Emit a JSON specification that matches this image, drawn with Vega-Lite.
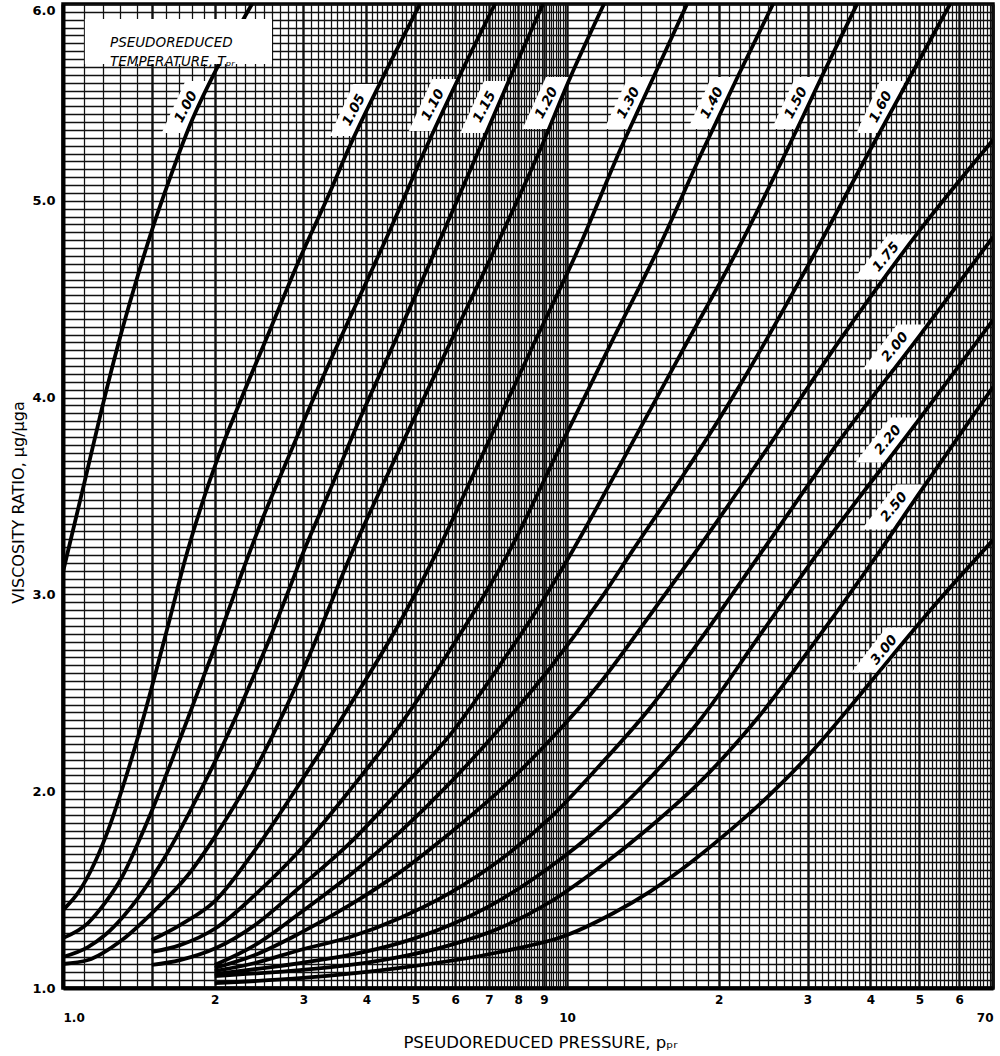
{
  "$schema": "https://vega.github.io/schema/vega-lite/v6.json",
  "width": 930,
  "height": 984,
  "autosize": {"type": "none"},
  "padding": {"left": 63, "top": 4, "right": 7, "bottom": 68},
  "background": "white",
  "config": {"view": {"stroke": "#000", "strokeWidth": 3.5}, "font": "DejaVu Sans"},
  "datasets": {
    "curves": [
      {"T":"1.00","p":1.0,"r":3.114},{"T":"1.00","p":1.1058,"r":3.581},{"T":"1.00","p":1.1952,"r":3.947},{"T":"1.00","p":1.2857,"r":4.267},{"T":"1.00","p":1.3895,"r":4.572},{"T":"1.00","p":1.502,"r":4.852},{"T":"1.00","p":1.6305,"r":5.116},{"T":"1.00","p":1.7865,"r":5.385},{"T":"1.00","p":2.0494,"r":5.705},{"T":"1.00","p":2.3714,"r":6.0},
      {"T":"1.05","p":1.0,"r":1.396},{"T":"1.05","p":1.0807,"r":1.498},{"T":"1.05","p":1.1575,"r":1.64},{"T":"1.05","p":1.2395,"r":1.828},{"T":"1.05","p":1.3275,"r":2.057},{"T":"1.05","p":1.4216,"r":2.311},{"T":"1.05","p":1.5227,"r":2.59},{"T":"1.05","p":1.6305,"r":2.88},{"T":"1.05","p":1.746,"r":3.175},{"T":"1.05","p":1.87,"r":3.429},{"T":"1.05","p":2.0494,"r":3.724},{"T":"1.05","p":2.2447,"r":3.978},{"T":"1.05","p":2.5745,"r":4.344},{"T":"1.05","p":2.9534,"r":4.709},{"T":"1.05","p":3.3866,"r":5.045},{"T":"1.05","p":3.6769,"r":5.258},{"T":"1.05","p":4.3351,"r":5.639},{"T":"1.05","p":5.109,"r":6.0},
      {"T":"1.10","p":1.0,"r":1.254},{"T":"1.10","p":1.1209,"r":1.33},{"T":"1.10","p":1.2115,"r":1.432},{"T":"1.10","p":1.3094,"r":1.564},{"T":"1.10","p":1.4087,"r":1.737},{"T":"1.10","p":1.5227,"r":1.94},{"T":"1.10","p":1.6455,"r":2.159},{"T":"1.10","p":1.7702,"r":2.372},{"T":"1.10","p":1.9129,"r":2.601},{"T":"1.10","p":2.0682,"r":2.829},{"T":"1.10","p":2.2758,"r":3.124},{"T":"1.10","p":2.4823,"r":3.378},{"T":"1.10","p":2.7959,"r":3.693},{"T":"1.10","p":3.1623,"r":4.013},{"T":"1.10","p":3.5776,"r":4.318},{"T":"1.10","p":4.4556,"r":4.852},{"T":"1.10","p":5.2271,"r":5.258},{"T":"1.10","p":6.1337,"r":5.639},{"T":"1.10","p":7.1969,"r":6.0},
      {"T":"1.15","p":1.0,"r":1.158},{"T":"1.15","p":1.1209,"r":1.208},{"T":"1.15","p":1.2115,"r":1.269},{"T":"1.15","p":1.3094,"r":1.356},{"T":"1.15","p":1.4087,"r":1.457},{"T":"1.15","p":1.5227,"r":1.584},{"T":"1.15","p":1.6455,"r":1.727},{"T":"1.15","p":1.7702,"r":1.879},{"T":"1.15","p":1.9129,"r":2.047},{"T":"1.15","p":2.0682,"r":2.225},{"T":"1.15","p":2.2243,"r":2.402},{"T":"1.15","p":2.4041,"r":2.601},{"T":"1.15","p":2.5982,"r":2.804},{"T":"1.15","p":2.7959,"r":3.012},{"T":"1.15","p":2.9941,"r":3.21},{"T":"1.15","p":3.3866,"r":3.53},{"T":"1.15","p":3.7965,"r":3.835},{"T":"1.15","p":4.6637,"r":4.344},{"T":"1.15","p":5.597,"r":4.801},{"T":"1.15","p":6.6601,"r":5.248},{"T":"1.15","p":7.7071,"r":5.624},{"T":"1.15","p":8.9615,"r":6.0},
      {"T":"1.20","p":1.0,"r":1.122},{"T":"1.20","p":1.1209,"r":1.142},{"T":"1.20","p":1.3094,"r":1.244},{"T":"1.20","p":1.5227,"r":1.396},{"T":"1.20","p":1.7702,"r":1.574},{"T":"1.20","p":2.0115,"r":1.777},{"T":"1.20","p":2.4041,"r":2.108},{"T":"1.20","p":2.9534,"r":2.58},{"T":"1.20","p":3.7619,"r":3.226},{"T":"1.20","p":4.6637,"r":3.744},{"T":"1.20","p":5.8606,"r":4.277},{"T":"1.20","p":7.3631,"r":4.811},{"T":"1.20","p":8.8393,"r":5.258},{"T":"1.20","p":10.138,"r":5.624},{"T":"1.20","p":11.841,"r":6.0},
      {"T":"1.30","p":1.5,"r":1.244},{"T":"1.30","p":1.7062,"r":1.32},{"T":"1.30","p":2.0115,"r":1.447},{"T":"1.30","p":2.4041,"r":1.701},{"T":"1.30","p":2.9534,"r":2.042},{"T":"1.30","p":3.7107,"r":2.438},{"T":"1.30","p":4.6637,"r":2.86},{"T":"1.30","p":5.546,"r":3.226},{"T":"1.30","p":6.7211,"r":3.683},{"T":"1.30","p":8.4451,"r":4.232},{"T":"1.30","p":10.612,"r":4.775},{"T":"1.30","p":12.744,"r":5.258},{"T":"1.30","p":14.88,"r":5.634},{"T":"1.30","p":17.302,"r":6.0},
      {"T":"1.40","p":1.5,"r":1.183},{"T":"1.40","p":1.7062,"r":1.218},{"T":"1.40","p":2.0115,"r":1.305},{"T":"1.40","p":2.4041,"r":1.473},{"T":"1.40","p":2.9534,"r":1.701},{"T":"1.40","p":3.7107,"r":2.006},{"T":"1.40","p":4.6637,"r":2.336},{"T":"1.40","p":5.8606,"r":2.717},{"T":"1.40","p":7.7071,"r":3.226},{"T":"1.40","p":9.6853,"r":3.749},{"T":"1.40","p":12.175,"r":4.267},{"T":"1.40","p":15.292,"r":4.775},{"T":"1.40","p":18.612,"r":5.258},{"T":"1.40","p":21.842,"r":5.634},{"T":"1.40","p":25.63,"r":6.0},
      {"T":"1.50","p":1.5,"r":1.117},{"T":"1.50","p":1.7062,"r":1.142},{"T":"1.50","p":2.0115,"r":1.203},{"T":"1.50","p":2.4041,"r":1.32},{"T":"1.50","p":2.9534,"r":1.513},{"T":"1.50","p":3.7107,"r":1.737},{"T":"1.50","p":4.6637,"r":2.006},{"T":"1.50","p":5.8606,"r":2.286},{"T":"1.50","p":7.3631,"r":2.641},{"T":"1.50","p":8.8393,"r":2.946},{"T":"1.50","p":10.278,"r":3.226},{"T":"1.50","p":12.744,"r":3.657},{"T":"1.50","p":16.759,"r":4.216},{"T":"1.50","p":22.041,"r":4.775},{"T":"1.50","p":27.327,"r":5.258},{"T":"1.50","p":32.06,"r":5.634},{"T":"1.50","p":37.618,"r":6.0},
      {"T":"1.60","p":2.0,"r":1.117},{"T":"1.60","p":2.4041,"r":1.218},{"T":"1.60","p":2.9534,"r":1.381},{"T":"1.60","p":3.7107,"r":1.574},{"T":"1.60","p":4.6637,"r":1.793},{"T":"1.60","p":5.8606,"r":2.042},{"T":"1.60","p":7.3631,"r":2.321},{"T":"1.60","p":9.2527,"r":2.626},{"T":"1.60","p":11.627,"r":2.972},{"T":"1.60","p":13.521,"r":3.226},{"T":"1.60","p":16.759,"r":3.581},{"T":"1.60","p":22.041,"r":4.064},{"T":"1.60","p":28.998,"r":4.598},{"T":"1.60","p":39.929,"r":5.258},{"T":"1.60","p":47.926,"r":5.629},{"T":"1.60","p":57.541,"r":6.0},
      {"T":"1.75","p":2.0,"r":1.102},{"T":"1.75","p":2.4041,"r":1.168},{"T":"1.75","p":2.9534,"r":1.279},{"T":"1.75","p":3.7107,"r":1.422},{"T":"1.75","p":4.6637,"r":1.589},{"T":"1.75","p":5.8606,"r":1.788},{"T":"1.75","p":7.3631,"r":2.006},{"T":"1.75","p":9.2527,"r":2.26},{"T":"1.75","p":11.627,"r":2.55},{"T":"1.75","p":14.61,"r":2.895},{"T":"1.75","p":18.112,"r":3.226},{"T":"1.75","p":24.156,"r":3.688},{"T":"1.75","p":34.808,"r":4.293},{"T":"1.75","p":50.165,"r":4.852},{"T":"1.75","p":70,"r":5.309},
      {"T":"2.00","p":2.0,"r":1.086},{"T":"2.00","p":2.4041,"r":1.127},{"T":"2.00","p":2.9534,"r":1.193},{"T":"2.00","p":3.7107,"r":1.259},{"T":"2.00","p":4.6637,"r":1.356},{"T":"2.00","p":5.8606,"r":1.483},{"T":"2.00","p":7.3631,"r":1.65},{"T":"2.00","p":9.2527,"r":1.864},{"T":"2.00","p":11.627,"r":2.133},{"T":"2.00","p":14.61,"r":2.423},{"T":"2.00","p":18.361,"r":2.768},{"T":"2.00","p":24.489,"r":3.226},{"T":"2.00","p":34.808,"r":3.785},{"T":"2.00","p":50.165,"r":4.318},{"T":"2.00","p":70,"r":4.816},
      {"T":"2.20","p":2.0,"r":1.071},{"T":"2.20","p":2.9534,"r":1.127},{"T":"2.20","p":3.7107,"r":1.168},{"T":"2.20","p":4.6637,"r":1.229},{"T":"2.20","p":5.8606,"r":1.32},{"T":"2.20","p":7.3631,"r":1.447},{"T":"2.20","p":9.2527,"r":1.615},{"T":"2.20","p":11.627,"r":1.818},{"T":"2.20","p":14.61,"r":2.067},{"T":"2.20","p":18.361,"r":2.362},{"T":"2.20","p":24.156,"r":2.794},{"T":"2.20","p":31.768,"r":3.226},{"T":"2.20","p":50.165,"r":3.896},{"T":"2.20","p":70,"r":4.394},
      {"T":"2.50","p":2.0,"r":1.061},{"T":"2.50","p":2.9534,"r":1.091},{"T":"2.50","p":3.7107,"r":1.117},{"T":"2.50","p":4.6637,"r":1.158},{"T":"2.50","p":5.8606,"r":1.218},{"T":"2.50","p":7.3631,"r":1.305},{"T":"2.50","p":9.2527,"r":1.437},{"T":"2.50","p":11.627,"r":1.615},{"T":"2.50","p":14.61,"r":1.818},{"T":"2.50","p":18.361,"r":2.047},{"T":"2.50","p":24.156,"r":2.387},{"T":"2.50","p":31.768,"r":2.794},{"T":"2.50","p":41.228,"r":3.2},{"T":"2.50","p":50.165,"r":3.52},{"T":"2.50","p":70,"r":4.054},
      {"T":"3.00","p":2.0,"r":1.025},{"T":"3.00","p":2.9941,"r":1.051},{"T":"3.00","p":4.6637,"r":1.102},{"T":"3.00","p":7.3631,"r":1.183},{"T":"3.00","p":10.0,"r":1.269},{"T":"3.00","p":12.343,"r":1.38},{"T":"3.00","p":14.61,"r":1.49},{"T":"3.00","p":17.541,"r":1.635},{"T":"3.00","p":20.773,"r":1.788},{"T":"3.00","p":24.489,"r":1.95},{"T":"3.00","p":29.939,"r":2.174},{"T":"3.00","p":36.436,"r":2.428},{"T":"3.00","p":41.228,"r":2.595},{"T":"3.00","p":53.232,"r":2.936},{"T":"3.00","p":70,"r":3.276}
    ],
    "labels": [
      {"T":"1.00","p":1.754,"r":5.477},{"T":"1.05","p":3.779,"r":5.461},{"T":"1.10","p":5.421,"r":5.487},{"T":"1.15","p":6.861,"r":5.477},{"T":"1.20","p":9.11,"r":5.497},{"T":"1.30","p":13.25,"r":5.497},{"T":"1.40","p":19.4,"r":5.497},{"T":"1.50","p":28.47,"r":5.497},{"T":"1.60","p":41.91,"r":5.477},
      {"T":"1.75","p":42.96,"r":4.714},{"T":"2.00","p":44.76,"r":4.257},{"T":"2.20","p":43.35,"r":3.785},{"T":"2.50","p":44.56,"r":3.444},{"T":"3.00","p":42.56,"r":2.717}
    ],
    "legendbox": [{"p":1.105,"p2":2.598,"r":5.695,"r2":5.924}],
    "legendtext": [{"p":1.2395,"r":5.804,"text":"PSEUDOREDUCED\nTEMPERATURE, Tₚᵣ"}]
  },
  "encoding": {
    "x": {
      "field": "p", "type": "quantitative",
      "scale": {"type": "log", "domain": [1, 70], "nice": false},
      "axis": {
        "values": [1,1.1,1.2,1.3,1.4,1.5,1.6,1.7,1.8,1.9,2,2.1,2.2,2.3,2.4,2.5,2.6,2.7,2.8,2.9,3,3.1,3.2,3.3,3.4,3.5,3.6,3.7,3.8,3.9,4,4.1,4.2,4.3,4.4,4.5,4.6,4.7,4.8,4.9,5,5.1,5.2,5.3,5.4,5.5,5.6,5.7,5.8,5.9,6,6.1,6.2,6.3,6.4,6.5,6.6,6.7,6.8,6.9,7,7.1,7.2,7.3,7.4,7.5,7.6,7.7,7.8,7.9,8,8.1,8.2,8.3,8.4,8.5,8.6,8.7,8.8,8.9,9,9.1,9.2,9.3,9.4,9.5,9.6,9.7,9.8,9.9,10,11,12,13,14,15,16,17,18,19,20,21,22,23,24,25,26,27,28,29,30,31,32,33,34,35,36,37,38,39,40,41,42,43,44,45,46,47,48,49,50,51,52,53,54,55,56,57,58,59,60,61,62,63,64,65,66,67,68,69,70],
        "grid": true,
        "gridColor": "#111",
        "gridWidth": {"condition": {"test": "indexof([1,1.5,2,3,4,5,6,7,8,9,10,20,30,40,50,60,70], datum.value) >= 0", "value": 2.4}, "value": 1.25},
        "ticks": false,
        "domain": true, "domainWidth": 4, "domainColor": "#000",
        "labelExpr": "datum.value == 1 ? '1.0' : datum.value == 10 ? '10' : datum.value == 70 ? '70' : (datum.value < 10 && datum.value == round(datum.value)) ? '' + datum.value : (datum.value > 10 && datum.value % 10 == 0) ? '' + (datum.value / 10) : ''",
        "labelOverlap": false,
        "labelFont": "DejaVu Sans", "labelFontSize": 12, "labelFontWeight": "bold", "labelColor": "#000",
        "labelBaseline": "top",
        "labelPadding": {"condition": {"test": "datum.value == 1 || datum.value == 10 || datum.value == 70", "value": 24}, "value": 6},
        "title": "PSEUDOREDUCED PRESSURE, pₚᵣ",
        "titleFont": "DejaVu Sans", "titleFontSize": 16.5, "titleFontWeight": "normal", "titleColor": "#000",
        "titleX": 477, "titleY": 54, "titleBaseline": "middle", "titleAlign": "center"
      }
    },
    "y": {
      "field": "r", "type": "quantitative",
      "scale": {"domain": [1, 6], "nice": false, "zero": false},
      "axis": {
        "values": [1,1.04,1.08,1.12,1.16,1.2,1.24,1.28,1.32,1.36,1.4,1.44,1.48,1.52,1.56,1.6,1.64,1.68,1.72,1.76,1.8,1.84,1.88,1.92,1.96,2,2.04,2.08,2.12,2.16,2.2,2.24,2.28,2.32,2.36,2.4,2.44,2.48,2.52,2.56,2.6,2.64,2.68,2.72,2.76,2.8,2.84,2.88,2.92,2.96,3,3.04,3.08,3.12,3.16,3.2,3.24,3.28,3.32,3.36,3.4,3.44,3.48,3.52,3.56,3.6,3.64,3.68,3.72,3.76,3.8,3.84,3.88,3.92,3.96,4,4.04,4.08,4.12,4.16,4.2,4.24,4.28,4.32,4.36,4.4,4.44,4.48,4.52,4.56,4.6,4.64,4.68,4.72,4.76,4.8,4.84,4.88,4.92,4.96,5,5.04,5.08,5.12,5.16,5.2,5.24,5.28,5.32,5.36,5.4,5.44,5.48,5.52,5.56,5.6,5.64,5.68,5.72,5.76,5.8,5.84,5.88,5.92,5.96,6],
        "grid": true,
        "gridColor": "#111",
        "gridWidth": 1.45,
        "ticks": false,
        "domain": true, "domainWidth": 4, "domainColor": "#000",
        "labelExpr": "abs(datum.value - round(datum.value)) < 0.001 ? format(datum.value, '.1f') : ''",
        "labelOverlap": false,
        "labelFont": "DejaVu Sans", "labelFontSize": 13, "labelFontWeight": "bold", "labelColor": "#000",
        "labelPadding": 8,
        "labelBaseline": {"condition": {"test": "datum.value == 6", "value": "top"}, "value": "middle"},
        "title": "VISCOSITY RATIO,  μg/μga",
        "titleFont": "DejaVu Sans", "titleFontSize": 16, "titleFontWeight": "normal", "titleColor": "#000",
        "titleAngle": 270, "titleX": -45, "titleY": 498, "titleBaseline": "middle", "titleAlign": "center"
      }
    }
  },
  "layer": [
    {
      "data": {"name": "labels"},
      "transform": [{"filter": "datum.r > 5"}],
      "mark": {"type": "point", "shape": "M-0.025,-1L0.935,-1L0.025,1L-0.935,1Z", "filled": true, "color": "white", "opacity": 1, "strokeWidth": 0, "size": 2704}
    },
    {
      "data": {"name": "labels"},
      "transform": [{"filter": "datum.r <= 5"}],
      "mark": {"type": "point", "shape": "M0.09,-1L1.45,-1L-0.09,1L-1.45,1Z", "filled": true, "color": "white", "opacity": 1, "strokeWidth": 0, "size": 2025}
    },
    {
      "data": {"name": "curves"},
      "mark": {"type": "line", "color": "#000", "strokeWidth": 3.8, "interpolate": "monotone", "clip": true},
      "encoding": {"detail": {"field": "T"}}
    },
    {
      "data": {"name": "legendbox"},
      "mark": {"type": "rect", "fill": "white", "stroke": null},
      "encoding": {"x2": {"field": "p2"}, "y2": {"field": "r2"}}
    },
    {
      "data": {"name": "legendtext"},
      "mark": {"type": "text", "align": "left", "baseline": "middle", "font": "DejaVu Sans", "fontSize": 13.5, "fontStyle": "italic", "lineBreak": "\n", "lineHeight": 19, "color": "#000"},
      "encoding": {"text": {"field": "text"}}
    },
    {
      "data": {"name": "labels"},
      "transform": [{"filter": "datum.r > 5"}],
      "mark": {"type": "text", "angle": -62, "align": "center", "baseline": "middle", "font": "DejaVu Sans", "fontSize": 13.5, "fontWeight": "bold", "fontStyle": "italic", "color": "#000"},
      "encoding": {"text": {"field": "T"}}
    },
    {
      "data": {"name": "labels"},
      "transform": [{"filter": "datum.r <= 5"}],
      "mark": {"type": "text", "angle": -50, "align": "center", "baseline": "middle", "font": "DejaVu Sans", "fontSize": 13.5, "fontWeight": "bold", "fontStyle": "italic", "color": "#000"},
      "encoding": {"text": {"field": "T"}}
    }
  ]
}
